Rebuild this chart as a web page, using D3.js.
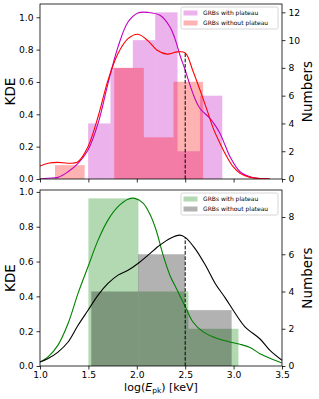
<!DOCTYPE html>
<html>
<head>
<meta charset="utf-8">
<script src="https://cdn.jsdelivr.net/npm/d3@7"></script>
<style>
  body { margin: 0; background: #fff; }
  text { font-family: "DejaVu Sans", sans-serif; }
</style>
</head>
<body>
<svg id="chart" width="319" height="399"></svg>
<script>
// tick values
const xTicks = [1.0, 1.5, 2.0, 2.5, 3.0, 3.5]
const kdeTicks = [0, 0.2, 0.4, 0.6, 0.8, 1.0]
const topNumTicks = [0, 2, 4, 6, 8, 10, 12]
const botNumTicks = [0, 2, 4, 6, 8]
const cut = 2.5

// top panel histograms (bin edges + counts)
const topWithEdges = [1.497, 1.728, 1.959, 2.19, 2.421, 2.652, 2.883]
const topWithCounts = [4, 8, 10, 12, 2, 6]
const topWithoutEdges = [1.155, 1.461, 1.767, 2.073, 2.379, 2.685]
const topWithoutCounts = [1, 0, 8, 3, 7]

// bottom panel histograms
const botWithEdges = [1.50, 2.017, 2.533, 3.05]
const botWithCounts = [9, 4, 2]
const botWithoutEdges = [1.53, 2.013, 2.497, 2.98]
const botWithoutCounts = [4, 6, 3]

// KDE curves [log Epk, density]
const topWithKde = [[1.0, 0], [1.083, 0.005], [1.186, 0.01], [1.29, 0.045], [1.393, 0.097],
  [1.496, 0.179], [1.6, 0.344], [1.702, 0.59], [1.806, 0.817], [1.909, 0.971], [2.012, 1.027],
  [2.116, 1.03], [2.24, 1.012], [2.343, 0.94], [2.394, 0.868], [2.446, 0.765], [2.5, 0.673],
  [2.55, 0.58], [2.6, 0.498], [2.653, 0.436], [2.756, 0.375], [2.808, 0.333], [2.86, 0.282],
  [2.911, 0.21], [2.963, 0.138], [3.066, 0.045], [3.17, 0.014], [3.273, 0.003], [3.376, 0]]
const topWithoutKde = [[1.0, 0.08], [1.083, 0.097], [1.186, 0.103], [1.29, 0.097], [1.393, 0.107],
  [1.496, 0.2], [1.6, 0.385], [1.702, 0.61], [1.806, 0.776], [1.909, 0.868], [2.012, 0.895],
  [2.116, 0.854], [2.21, 0.796], [2.314, 0.772], [2.417, 0.786], [2.5, 0.78], [2.58, 0.668],
  [2.653, 0.55], [2.726, 0.426], [2.79, 0.313], [2.86, 0.22], [2.93, 0.138], [2.995, 0.076],
  [3.066, 0.035], [3.17, 0.01], [3.273, 0.003], [3.376, 0]]
const botWithKde = [[1.0, 0.023], [1.083, 0.052], [1.186, 0.12], [1.29, 0.244], [1.393, 0.417],
  [1.496, 0.57], [1.6, 0.723], [1.702, 0.838], [1.806, 0.915], [1.909, 0.958], [1.98, 0.963],
  [2.065, 0.935], [2.137, 0.87], [2.2, 0.78], [2.27, 0.64], [2.343, 0.52], [2.417, 0.436],
  [2.51, 0.33], [2.58, 0.253], [2.686, 0.196], [2.83, 0.158], [2.963, 0.138], [3.066, 0.125],
  [3.17, 0.106], [3.273, 0.07], [3.376, 0.044], [3.5, 0.017]]
const botWithoutKde = [[1.0, 0.023], [1.083, 0.043], [1.186, 0.08], [1.29, 0.138], [1.393, 0.234],
  [1.496, 0.32], [1.6, 0.407], [1.702, 0.474], [1.806, 0.522], [1.909, 0.55], [2.012, 0.589],
  [2.116, 0.637], [2.24, 0.695], [2.343, 0.733], [2.446, 0.752], [2.5, 0.739], [2.6, 0.676],
  [2.708, 0.58], [2.81, 0.474], [2.915, 0.39], [3.02, 0.3], [3.12, 0.224], [3.273, 0.155],
  [3.376, 0.09], [3.5, 0.033]]

const svg = d3.select('svg#chart')
const left = 40, right = 282

const x = d3.scaleLinear().domain([1, 3.5]).range([left, right])

function drawPanel(p) {
  const yK = d3.scaleLinear().domain([0, p.kdeMax]).range([p.bottom, p.top])
  const yN = d3.scaleLinear().domain([0, p.numMax]).range([p.bottom, p.top])
  const g = svg.append('g')

  const clipId = 'clip' + p.top
  svg.append('clipPath').attr('id', clipId)
    .append('rect').attr('x', left).attr('y', p.top)
    .attr('width', right - left).attr('height', p.bottom - p.top)

  const plot = g.append('g').attr('clip-path', `url(#${clipId})`)

  // histograms
  p.hists.forEach(h => {
    const bins = h.counts.map((c, i) => ({ x0: h.edges[i], x1: h.edges[i + 1], n: c }))
    plot.append('g')
      .selectAll('rect')
      .data(bins.filter(b => b.n > 0))
      .enter()
      .append('rect')
      .attr('x', b => x(b.x0))
      .attr('width', b => x(b.x1) - x(b.x0))
      .attr('y', b => yN(b.n))
      .attr('height', b => yN(0) - yN(b.n))
      .style('fill', h.color)
      .style('fill-opacity', 0.3)
  })

  // kde lines
  const line = d3.line()
    .x(d => x(d[0]))
    .y(d => yK(d[1]))
    .curve(d3.curveCatmullRom.alpha(0.5))
  p.kdes.forEach(k => {
    plot.append('path')
      .datum(k.data)
      .attr('d', line)
      .attr('fill', 'none')
      .attr('stroke', k.color)
      .attr('stroke-width', 1.1)
  })

  // dashed cut line up to the "without plateau" curve
  const hit = p.kdes[1].data.find(d => d[0] === cut)
  plot.append('line')
    .attr('x1', x(cut)).attr('x2', x(cut))
    .attr('y1', yK(0)).attr('y2', yK(hit[1]))
    .attr('stroke', '#000')
    .attr('stroke-width', 1)
    .attr('stroke-dasharray', '3.7,1.6')

  // axes
  const ax = g.append('g').attr('transform', `translate(${left},0)`)
    .call(d3.axisLeft(yK).tickValues(kdeTicks).tickFormat(d3.format('.1f')).tickSize(3.5).tickPadding(3).tickSizeOuter(0))
  const axR = g.append('g').attr('transform', `translate(${right},0)`)
    .call(d3.axisRight(yN).tickValues(p.numTicks).tickSize(3.5).tickPadding(3).tickSizeOuter(0))
  const axB = g.append('g').attr('transform', `translate(0,${p.bottom})`)
    .call(d3.axisBottom(x).tickValues(xTicks).tickFormat(p.xLabels ? d3.format('.1f') : '').tickSize(3.5).tickPadding(2).tickSizeOuter(0))
  ;[ax, axR, axB].forEach(a => {
    a.select('.domain').remove()
    a.selectAll('line').attr('stroke-width', 0.8)
    a.selectAll('text').attr('font-size', '9.2px').attr('fill', '#000')
  })

  g.append('rect')
    .attr('x', left).attr('y', p.top)
    .attr('width', right - left).attr('height', p.bottom - p.top)
    .attr('fill', 'none')
    .attr('stroke', '#000')
    .attr('stroke-width', 0.8)

  // axis titles
  const mid = (p.top + p.bottom) / 2
  g.append('text')
    .attr('transform', `translate(15,${mid}) rotate(-90)`)
    .attr('text-anchor', 'middle')
    .attr('font-size', '13.5px')
    .text('KDE')
  g.append('text')
    .attr('transform', `translate(312,${mid}) rotate(-90)`)
    .attr('text-anchor', 'middle')
    .attr('font-size', '13.5px')
    .text('Numbers')

  // legend
  const lg = g.append('g').attr('transform', `translate(181,${p.top + 3})`)
  lg.append('rect')
    .attr('width', 97).attr('height', 22).attr('rx', 1.5)
    .attr('fill', '#fff').attr('fill-opacity', 0.8)
    .attr('stroke', '#ccc').attr('stroke-width', 0.8)
  p.hists.forEach((h, i) => {
    lg.append('rect')
      .attr('x', 2.5).attr('y', 6 + i * 10 - 2.5)
      .attr('width', 14).attr('height', 5)
      .style('fill', h.color).style('fill-opacity', 0.3)
    lg.append('text')
      .attr('x', 22).attr('y', 6 + i * 10 + 2.2)
      .attr('font-size', '6px')
      .text(h.label)
  })
}

drawPanel({
  top: 4, bottom: 179, kdeMax: 1.082, numMax: 12.6, numTicks: topNumTicks, xLabels: false,
  hists: [
    { edges: topWithEdges, counts: topWithCounts, color: '#bf00bf', label: 'GRBs with plateau' },
    { edges: topWithoutEdges, counts: topWithoutCounts, color: '#ff0000', label: 'GRBs without plateau' }
  ],
  kdes: [{ data: topWithKde, color: '#bf00bf' }, { data: topWithoutKde, color: '#ff0000' }]
})

drawPanel({
  top: 190, bottom: 366, kdeMax: 1.011, numMax: 9.45, numTicks: botNumTicks, xLabels: true,
  hists: [
    { edges: botWithEdges, counts: botWithCounts, color: '#008000', label: 'GRBs with plateau' },
    { edges: botWithoutEdges, counts: botWithoutCounts, color: '#000000', label: 'GRBs without plateau' }
  ],
  kdes: [{ data: botWithKde, color: '#008000' }, { data: botWithoutKde, color: '#000000' }]
})

// x axis title
const xt = svg.append('text')
  .attr('x', 161).attr('y', 391)
  .attr('text-anchor', 'middle')
  .attr('font-size', '11px')
xt.append('tspan').text('log(')
xt.append('tspan').attr('font-style', 'italic').text('E')
xt.append('tspan').attr('font-size', '7.5px').attr('dy', 2).text('pk')
xt.append('tspan').attr('dy', -2).text(') [keV]')
</script>
</body>
</html>
